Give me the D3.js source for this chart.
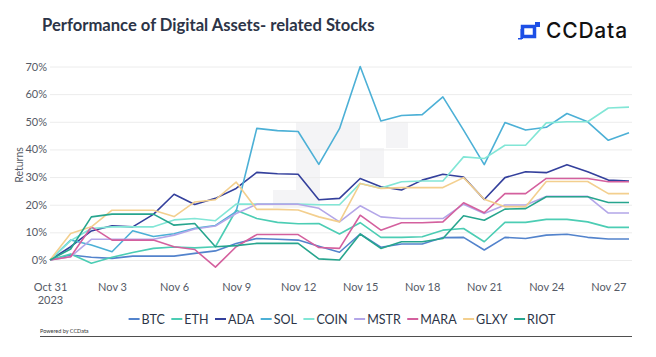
<!DOCTYPE html>
<html>
<head>
<meta charset="utf-8">
<script src="https://cdn.jsdelivr.net/npm/d3@7"></script>
<style>
  html, body { margin: 0; padding: 0; background: #ffffff; }
  svg { display: block; }
</style>
</head>
<body>
<svg id="chart" width="656" height="357"></svg>
<script>
// ---------------- DATA ----------------
const dates = ["Oct 31","Nov 1","Nov 2","Nov 3","Nov 4","Nov 5","Nov 6","Nov 7","Nov 8","Nov 9",
  "Nov 10","Nov 11","Nov 12","Nov 13","Nov 14","Nov 15","Nov 16","Nov 17","Nov 18","Nov 19",
  "Nov 20","Nov 21","Nov 22","Nov 23","Nov 24","Nov 25","Nov 26","Nov 27","Nov 28"];
const tickLabels = ["Oct 31","Nov 3","Nov 6","Nov 9","Nov 12","Nov 15","Nov 18","Nov 21","Nov 24","Nov 27"];
const yTicks = [0, 10, 20, 30, 40, 50, 60, 70];

const seriesNames = ["BTC","ETH","ADA","SOL","COIN","MSTR","MARA","GLXY","RIOT"];
const seriesColors = ["#5383cc","#4ccdb4","#34409c","#4cb0d6","#82e6d6","#b3a6e8","#d4609e","#f3cf8e","#27a58e"];

const btc  = [0,1.8,1.0,0.6,1.4,1.4,1.4,2.4,3.3,6.0,7.8,7.5,7.2,5.0,2.8,9.4,4.6,5.8,5.8,8.1,8.2,3.6,8.2,7.8,9.0,9.3,8.2,7.6,7.6];
const eth  = [0,2.2,-1.2,1.0,2.7,4.2,4.7,4.4,4.8,18.0,15.0,13.6,13.1,13.2,9.4,13.5,8.2,8.2,8.4,10.8,11.4,6.6,13.6,13.6,14.7,14.7,13.8,11.8,11.8];
const ada  = [0,4.8,10.5,12.4,12.0,16.5,23.8,20.1,22.3,25.9,31.7,31.2,31.0,21.8,22.3,29.5,26.5,25.3,28.9,31.0,30.0,21.9,29.8,31.9,31.6,34.5,31.9,28.9,28.6];
const sol  = [0,7.2,5.4,3.0,10.6,8.5,9.5,11.5,12.5,17.5,47.6,46.8,46.5,34.6,47.5,70.0,50.3,52.3,52.6,59.0,47.0,34.5,49.7,47.0,48.0,53.0,50.0,43.3,46.0];
const coin = [0,7.0,11.4,12.0,12.0,12.0,14.5,15.0,14.2,20.2,20.2,20.2,20.2,20.0,20.0,27.7,26.0,28.3,28.6,28.6,37.3,36.7,41.5,41.5,49.6,50.0,50.0,55.0,55.3];
const mstr = [0,1.2,7.5,7.5,7.5,7.5,9.0,11.2,12.3,16.8,20.2,20.2,20.2,18.7,13.8,19.6,15.6,15.0,15.0,15.0,20.2,16.8,19.9,19.9,23.0,23.0,23.0,17.0,17.0];
const mara = [0,1.2,12.0,7.2,7.2,7.2,4.8,3.8,-2.6,4.8,9.2,9.2,9.2,4.5,4.2,16.2,10.8,13.5,13.5,13.8,20.7,17.1,24.0,24.0,29.5,29.5,29.5,28.3,28.3];
const glxy = [0,9.6,12.0,18.0,18.0,18.0,15.7,21.0,21.8,28.2,18.3,18.3,18.1,15.6,13.8,27.7,25.9,26.2,26.2,26.2,29.8,22.0,19.3,19.3,28.4,28.4,28.4,24.0,24.0];
const riot = [0,4.0,15.6,16.6,16.6,16.6,12.6,13.2,4.8,5.2,6.0,6.0,6.0,0.4,0.0,9.4,4.2,6.6,6.6,7.8,16.0,14.4,18.4,18.6,22.9,22.9,22.9,20.8,20.8];

const seriesValues = [btc, eth, ada, sol, coin, mstr, mara, glxy, riot];

// ---------------- CHART ----------------
const svg = d3.select("#chart");
const font = "'Lato', 'Open Sans', sans-serif";

const x = d3.scalePoint().domain(dates).range([50, 629]);
const y = d3.scaleLinear().domain([0, 70]).range([260, 66.5]);

// Title
svg.append("text")
  .attr("x", 42).attr("y", 31)
  .attr("font-family", font).attr("font-size", 16.6).attr("font-weight", 700)
  .attr("fill", "#2c3447")
  .text("Performance of Digital Assets- related Stocks");

// Logo
const logo = svg.append("g").attr("transform", "translate(518,22)");
const blue = "#1d4fe6";
logo.append("rect").attr("x", 4.5).attr("y", 4.5).attr("width", 12).attr("height", 10)
  .attr("fill", "none").attr("stroke", blue).attr("stroke-width", 3.5);
logo.append("rect").attr("x", 17).attr("y", 0).attr("width", 5).attr("height", 5).attr("fill", blue);
logo.append("rect").attr("x", 0).attr("y", 16).attr("width", 4).attr("height", 1.5).attr("fill", blue);
logo.append("rect").attr("x", 2.5).attr("y", 7).attr("width", 2.5).attr("height", 10).attr("fill", blue);
svg.append("text")
  .attr("x", 546).attr("y", 38)
  .attr("font-family", "'Inter', 'Lato', sans-serif").attr("font-size", 21).attr("font-weight", 500)
  .attr("letter-spacing", 0.8)
  .attr("fill", "#111111")
  .text("CCData");

// Faint watermark blocks
const wm = svg.append("g").attr("fill", "#f4f4f6");
[[296,122,24,30],[320,122,40,28],[360,148,24,30],[386,122,22,26],[296,152,24,56],[273,190,23,18]].forEach(r => {
  wm.append("rect").attr("x", r[0]).attr("y", r[1]).attr("width", r[2]).attr("height", r[3]);
});

// Gridlines and y labels
const yAxis = d3.axisLeft(y).tickValues(yTicks).tickFormat(d => d + "%").tickSize(0).tickPadding(3);
const yg = svg.append("g").attr("transform", "translate(50,0)").call(yAxis);
yg.select(".domain").remove();
yg.selectAll("text").attr("font-family", font).attr("font-size", 11).attr("fill", "#555a66");

const grid = d3.axisLeft(y).tickValues(yTicks).tickSize(-582).tickFormat("");
const gg = svg.append("g").attr("transform", "translate(50,0)").call(grid);
gg.select(".domain").remove();
gg.selectAll("line").attr("stroke", "#ececec").attr("stroke-width", 1);
gg.lower();
wm.lower();

// Y axis title
svg.append("text")
  .attr("transform", "translate(23,165) rotate(-90)")
  .attr("text-anchor", "middle")
  .attr("font-family", font).attr("font-size", 10.5).attr("fill", "#555a66")
  .text("Returns");

// X axis labels
const xAxis = d3.axisBottom(x).tickValues(tickLabels).tickSize(0).tickPadding(0);
const xg = svg.append("g").attr("transform", "translate(0,283)").call(xAxis);
xg.select(".domain").remove();
xg.selectAll("text")
  .attr("font-family", font).attr("font-size", 11).attr("fill", "#555a66")
  .attr("dy", "0.71em")
  .each(function(d) {
    if (d === "Oct 31") {
      const t = d3.select(this);
      t.text(null);
      t.append("tspan").attr("x", 0).attr("dy", "0.71em").text("Oct 31");
      t.append("tspan").attr("x", 0).attr("dy", 13).text("2023");
    }
  });

// Lines
const line = d3.line().x((d, i) => x(dates[i])).y(d => y(d));
const linesG = svg.append("g");
seriesValues.forEach((vals, k) => {
  linesG.append("path")
    .datum(vals)
    .attr("d", line)
    .attr("fill", "none")
    .attr("stroke", seriesColors[k])
    .attr("stroke-width", 1.6)
    .attr("stroke-linejoin", "round");
});

// Legend
const lg = svg.append("g").attr("transform", "translate(0,319)");
let cx = 0;
const items = [];
seriesNames.forEach((name, k) => {
  const g = lg.append("g");
  g.append("line").attr("x1", 0).attr("x2", 11).attr("y1", 0).attr("y2", 0)
    .attr("stroke", seriesColors[k]).attr("stroke-width", 2);
  const t = g.append("text").attr("x", 13).attr("y", 0).attr("dy", "0.36em")
    .attr("font-family", font).attr("font-size", 12.5).attr("fill", "#2c3447").text(name);
  const w = 13 + t.node().getComputedTextLength();
  items.push({g, w});
});
const gap = 6.5;
const total = items.reduce((s, it) => s + it.w, 0) + gap * (items.length - 1);
cx = 342 - total / 2;
items.forEach(it => { it.g.attr("transform", `translate(${cx},0)`); cx += it.w + gap; });

// Footer
svg.append("text")
  .attr("x", 40).attr("y", 333)
  .attr("font-family", font).attr("font-size", 5.5).attr("fill", "#333")
  .text("Powered by CCData");
svg.append("line").attr("x1", 40).attr("x2", 632).attr("y1", 336.5).attr("y2", 336.5)
  .attr("stroke", "#222").attr("stroke-width", 0.8);
</script>
</body>
</html>
